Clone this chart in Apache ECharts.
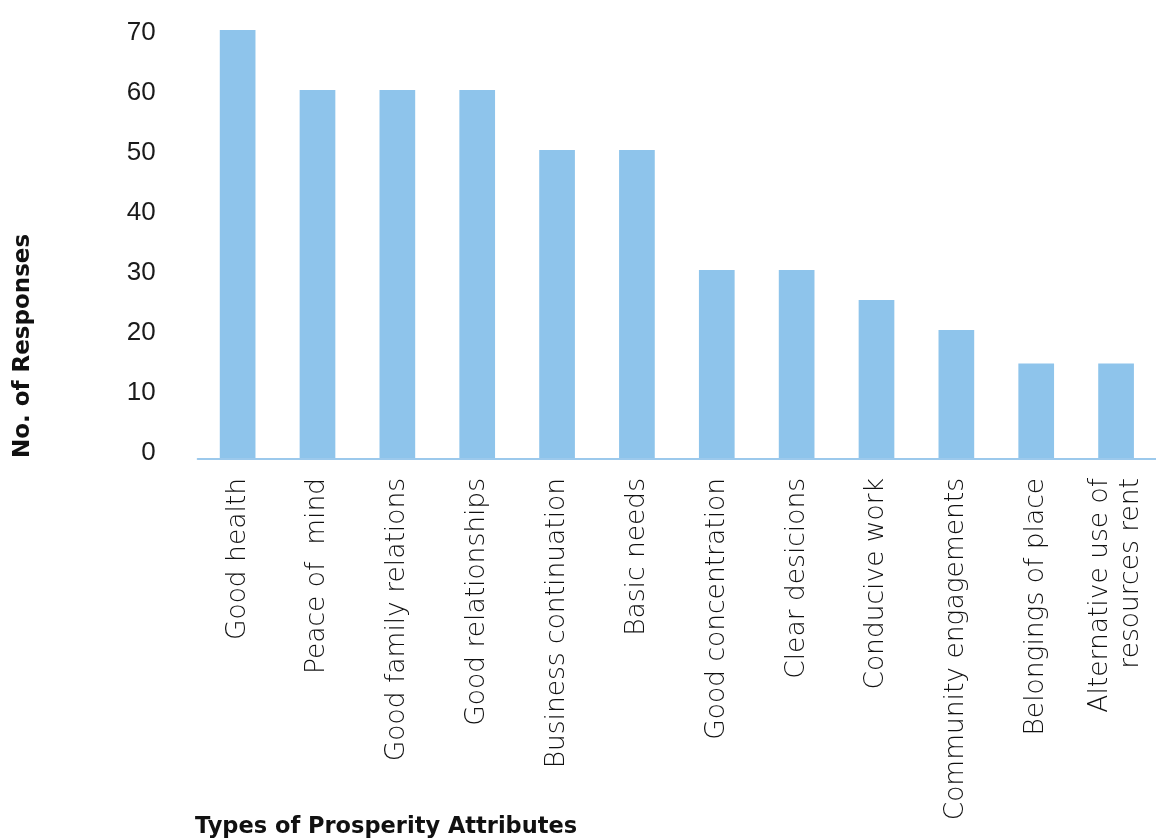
<!DOCTYPE html>
<html>
<head>
<meta charset="utf-8">
<script src="https://cdn.jsdelivr.net/npm/echarts@6/dist/echarts.min.js"></script>
<style>
html,body{margin:0;padding:0;background:#fff;}
#chart{width:1156px;height:838px;}
</style>
</head>
<body>
<div id="chart"></div>
<script>
var categories = [
  'Good health', 'Peace of  mind', 'Good family relations', 'Good relationships',
  'Business continuation', 'Basic needs', 'Good concentration', 'Clear desicions',
  'Conducive work', 'Community engagements', 'Belongings of place',
  'Alternative use of\nresources rent'
];
var responses = [70, 60, 60, 60, 50, 50, 30, 30, 25, 20, 14.4, 14.4];
var yTickLabels = [0, 10, 20, 30, 40, 50, 60, 70];
var yAxisTitle = 'No. of Responses';
var xAxisTitle = 'Types of Prosperity Attributes';

var barColor = '#8ec4eb';
var chart = echarts.init(document.getElementById('chart'), null, {renderer: 'canvas'});

chart.setOption({
  animation: false,
  backgroundColor: '#ffffff',
  grid: {left: 197.7, right: -8.3, top: 30, bottom: 379, containLabel: false},
  xAxis: {
    type: 'category',
    data: categories,
    axisLine: {show: true, onZero: false, lineStyle: {color: '#9cc9ec', width: 2}},
    axisTick: {show: false},
    axisLabel: {
      interval: 0, rotate: 90, margin: 19, hideOverlap: false,
      fontFamily: 'DejaVu Sans', fontWeight: 300, fontSize: 26.5, color: '#111', lineHeight: 31
    }
  },
  yAxis: {
    type: 'value',
    min: -1.5, max: 70,
    axisLine: {show: false},
    axisTick: {show: false},
    splitLine: {show: false},
    axisLabel: {
      customValues: yTickLabels,
      margin: 42,
      formatter: function (v) { return '{t|' + v + '}'; },
      rich: {
        t: {fontFamily: 'Liberation Sans', fontSize: 26, color: '#1a1a1a', padding: [6, 0, 0, 0]}
      }
    }
  },
  series: [{
    type: 'custom',
    data: responses.map(function (v, i) { return [i, v]; }),
    encode: {x: 0, y: 1},
    renderItem: function (params, api) {
      var top = api.coord([api.value(0), api.value(1)]);
      var bottomY = params.coordSys.y + params.coordSys.height;
      var w = api.size([1, 0])[0] * 0.447;
      return {
        type: 'rect',
        shape: {x: top[0] - w / 2, y: top[1], width: w, height: bottomY - top[1] - 1},
        style: {fill: barColor}
      };
    }
  }],
  graphic: [
    {
      type: 'text', x: 23, y: 346, rotation: Math.PI / 2,
      style: {text: yAxisTitle, fontFamily: 'DejaVu Sans', fontWeight: 'bold', fontSize: 23,
        fill: '#111', align: 'center', verticalAlign: 'middle'}
    },
    {
      type: 'text', x: 195, y: 827,
      style: {text: xAxisTitle, fontFamily: 'DejaVu Sans', fontWeight: 'bold', fontSize: 22.5,
        fill: '#111', align: 'left', verticalAlign: 'middle'}
    }
  ]
});
</script>
</body>
</html>
